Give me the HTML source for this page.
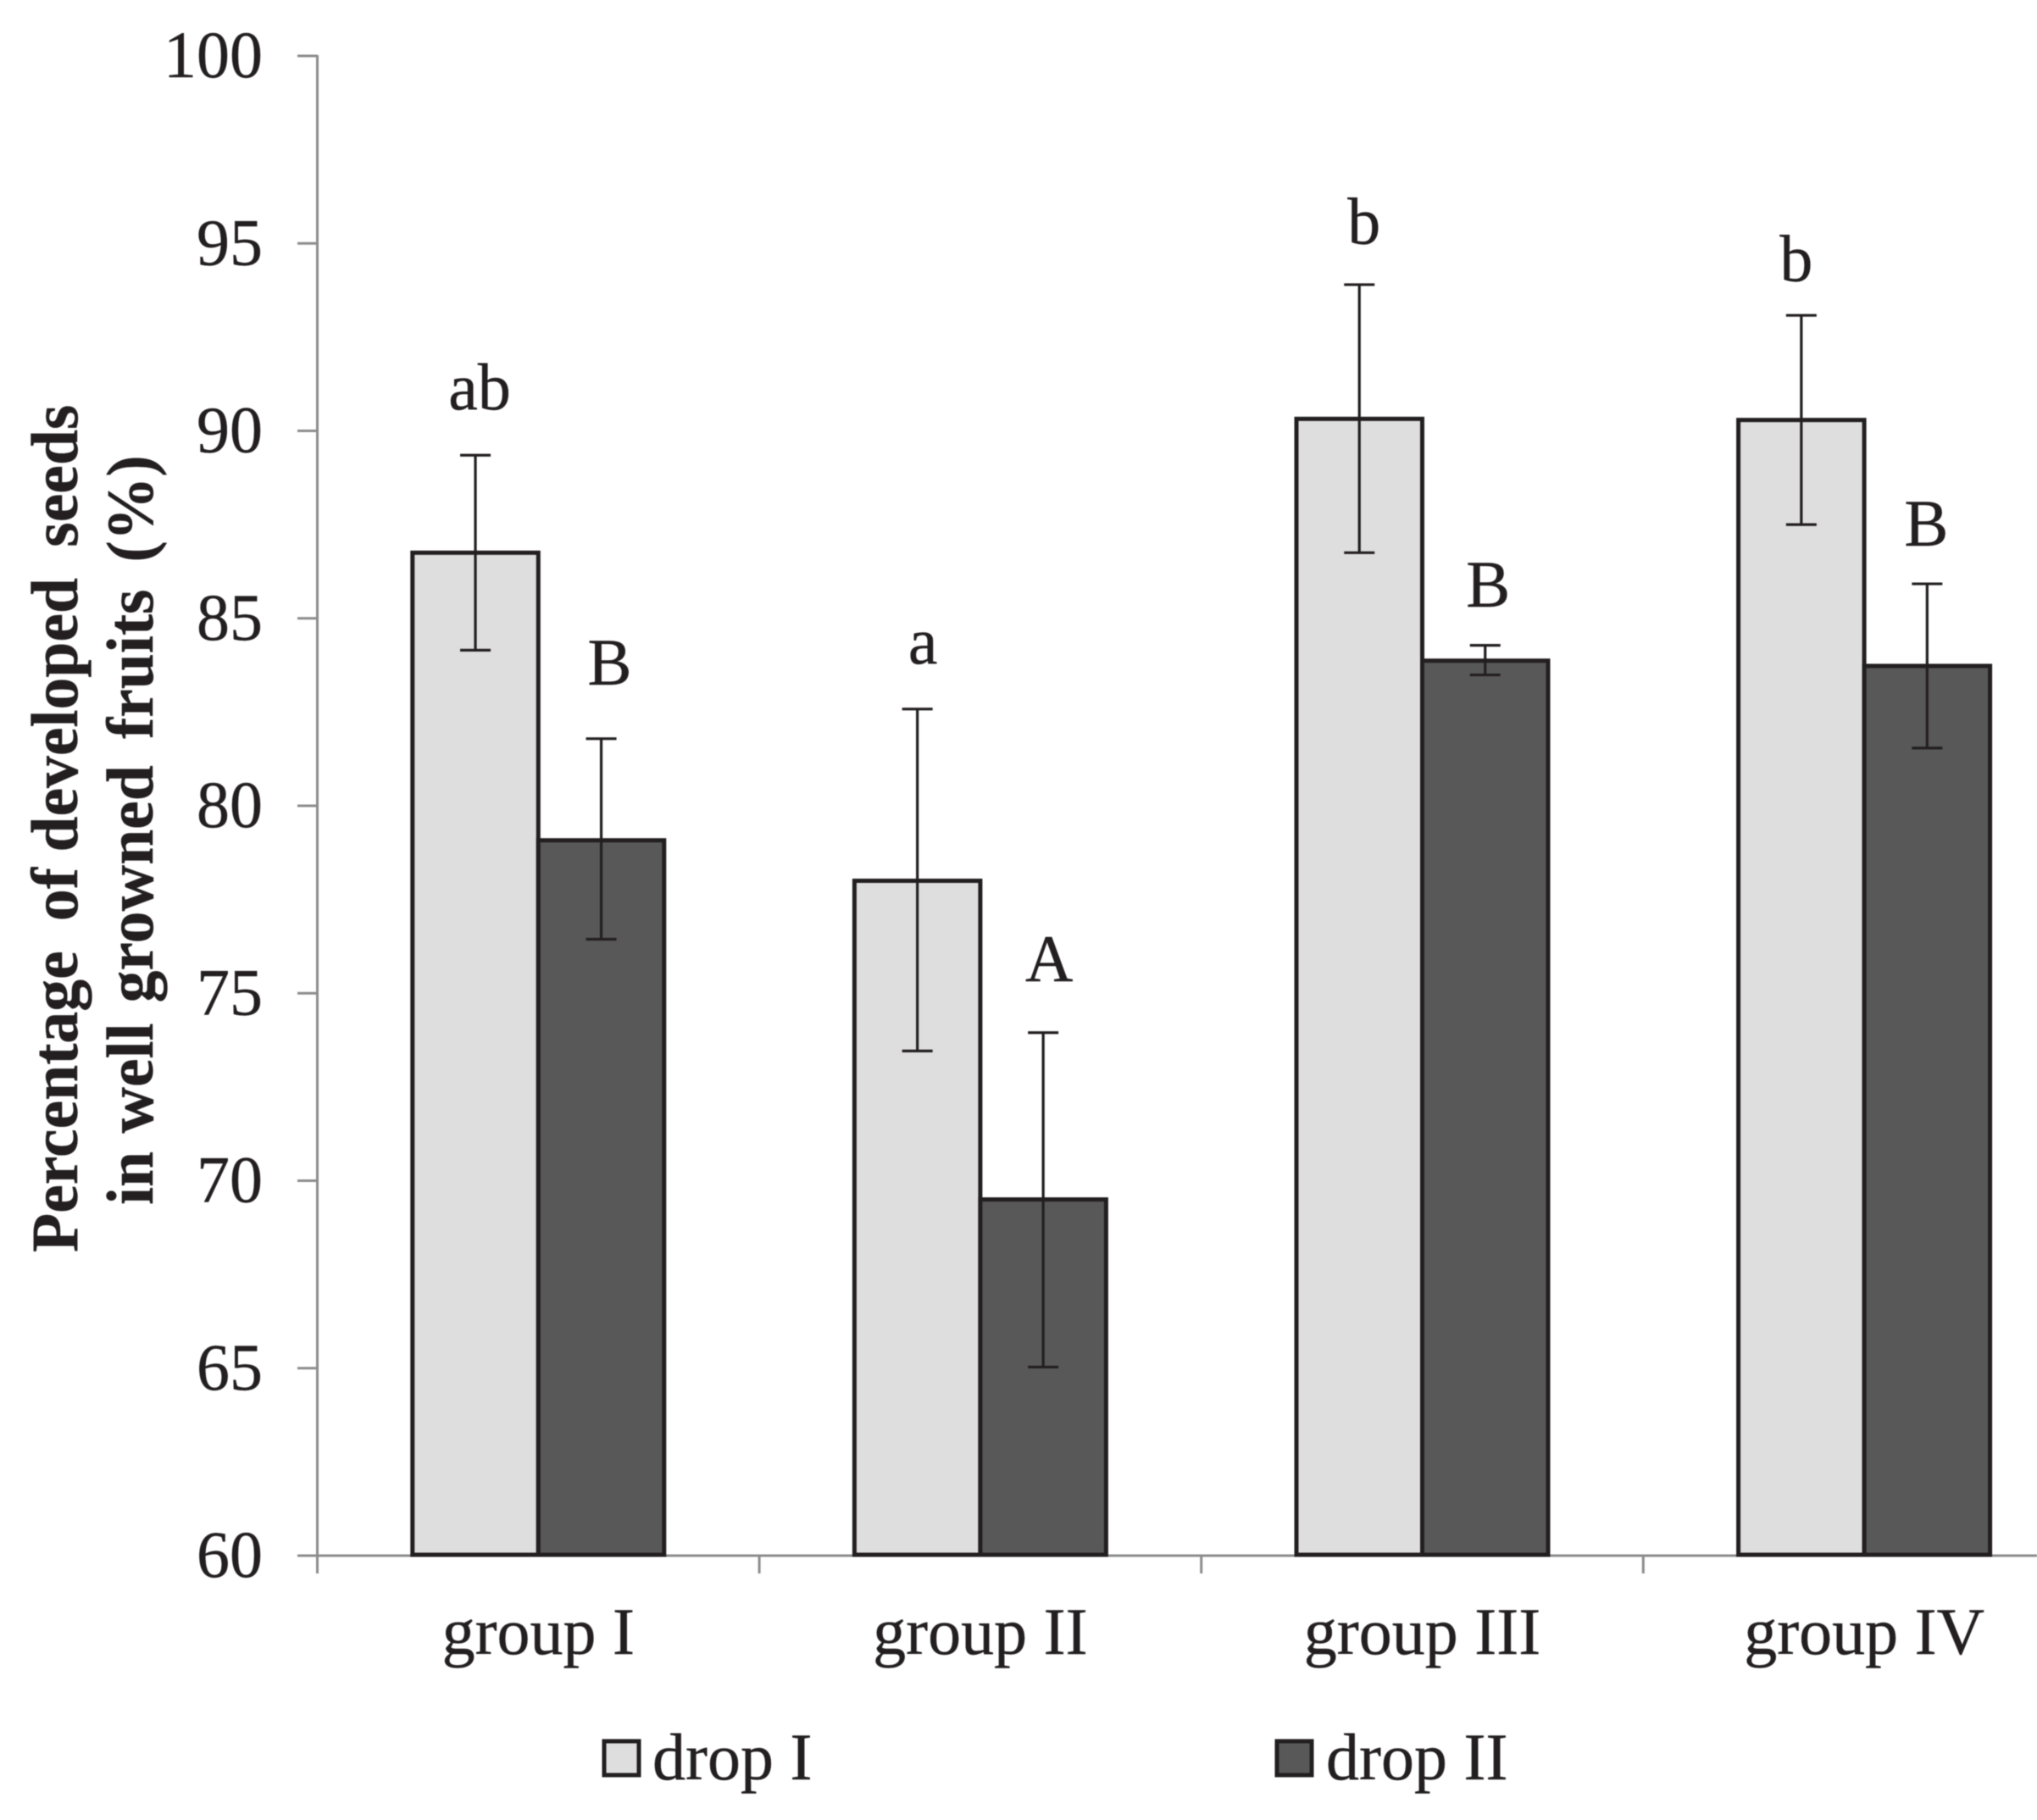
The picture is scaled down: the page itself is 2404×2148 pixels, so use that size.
<!DOCTYPE html>
<html lang="en">
<head>
<meta charset="utf-8">
<title>Percentage of developed seeds</title>
<style>
html,body{margin:0;padding:0;background:#fff;}
body{width:2404px;height:2148px;overflow:hidden;}
svg{display:block;filter:blur(0.6px);}
text{font-family:"Liberation Serif",serif;fill:#231f20;font-size:78px;stroke:#231f20;stroke-width:0.4px;}
</style>
</head>
<body>
<svg id="chart" xmlns="http://www.w3.org/2000/svg" width="2404" height="2148" viewBox="0 0 2404 2148">
  <g id="axes"></g>
  <g id="bars"></g>
  <g id="errors"></g>
  <g id="labels"></g>
  <g>
    <text transform="translate(91,1478) rotate(-90) scale(0.97,1)" font-weight="bold"><tspan x="0">Percentage</tspan> <tspan x="403">of</tspan> <tspan x="487">developed</tspan> <tspan x="858">seeds</tspan></text>
    <text transform="translate(180,1422) rotate(-90) scale(0.97,1)" font-weight="bold"><tspan x="0">in</tspan> <tspan x="87">well</tspan> <tspan x="246">growned</tspan> <tspan x="567">fruits</tspan> <tspan x="782">(%)</tspan></text>
  </g>
  <g>
    <g>
      <rect x="713" y="2055" width="41" height="40" fill="#dedede" stroke="#231f20" stroke-width="5"/>
      <text x="770" y="2100">drop I</text>
    </g>
    <g>
      <rect x="1507" y="2055" width="41" height="40" fill="#585858" stroke="#231f20" stroke-width="5"/>
      <text x="1565" y="2100">drop II</text>
    </g>
  </g>
</svg>
<script>
const categories = ["group I", "group II", "group III", "group IV"];
const yTicks = [60, 65, 70, 75, 80, 85, 90, 95, 100];
const dropI = [86.75, 78.0, 90.32, 90.29];
const dropII = [79.08, 69.5, 83.87, 83.73];
const dropIHigh = [89.35, 82.58, 93.9, 93.08];
const dropILow = [84.15, 73.46, 86.75, 87.5];
const dropIIHigh = [81.79, 73.95, 84.28, 85.92];
const dropIILow = [76.44, 65.03, 83.49, 81.54];
const dropILetters = ["ab", "a", "b", "b"];
const dropIILetters = ["B", "A", "B", "B"];
const dropILetterLevel = [90.58, 83.8, 95.0, 94.0];
const dropIILetterLevel = [83.23, 75.32, 85.31, 86.94];

const NS = "http://www.w3.org/2000/svg";
const axisLeft = 374.5, groupStep = 521.6, barW = 148.5;
function yScale(v) { return 1836 - (v - 60) * 44.25; }
function groupX(i) { return axisLeft + groupStep * i; }
function groupCenter(i) { return groupX(i) + groupStep / 2; }
function make(tag, parent, attrs) {
  const n = document.createElementNS(NS, tag);
  for (const k in attrs) n.setAttribute(k, attrs[k]);
  document.getElementById(parent).appendChild(n);
  return n;
}
const AXIS = { stroke: "#8c8c8c", "stroke-width": 3 };

let el = make("line", "axes", Object.assign({ x1: axisLeft, x2: axisLeft, y1: yScale(100) - 1, y2: 1857 }, AXIS));


el = make("line", "axes", Object.assign({ x1: 351, x2: 2404, y1: yScale(60), y2: yScale(60) }, AXIS));



yTicks.forEach(function (t) {
  let m = make("line", "axes", Object.assign({ x1: 351, x2: axisLeft, y1: yScale(t), y2: yScale(t) }, AXIS));
  
  
  let l = make("text", "axes", { x: 310, y: yScale(t) + 25, "text-anchor": "end" });
  l.textContent = t;
  
  
});

categories.forEach(function (c, i) {
  let m = make("line", "axes", Object.assign({ x1: groupX(i), x2: groupX(i), y1: yScale(60), y2: 1857 }, AXIS));
  
  
  let l = make("text", "axes", { x: groupCenter(i), y: 1952, "text-anchor": "middle" });
  l.textContent = c;
  
  
});

function drawBar(v, i, side, fill) {
  const left = side < 0 ? groupCenter(i) - barW : groupCenter(i);
  const r = make("rect", "bars", {
    x: left, y: yScale(v), width: barW, height: yScale(60) - 1 - yScale(v),
    fill: fill, stroke: "#231f20", "stroke-width": 5
  });
  
  
}
function drawError(hi, lo, i, side) {
  const cx = groupCenter(i) + side * barW / 2;
  const g = make("path", "errors", {
    d: "M" + (cx - 18) + " " + yScale(hi) + "H" + (cx + 18) +
       "M" + cx + " " + yScale(hi) + "V" + yScale(lo) +
       "M" + (cx - 18) + " " + yScale(lo) + "H" + (cx + 18),
    fill: "none", stroke: "#231f20", "stroke-width": 3.2
  });
  
  
}
function drawLetter(txt, level, i, side, nudge) {
  const t = make("text", "labels", {
    x: groupCenter(i) + side * barW / 2 + nudge, y: yScale(level), "text-anchor": "middle"
  });
  t.textContent = txt;
  
  
}

categories.forEach(function (c, i) {
  drawBar(dropI[i], i, -1, "#dedede");
  drawBar(dropII[i], i, 1, "#585858");
  drawError(dropIHigh[i], dropILow[i], i, -1);
  drawError(dropIIHigh[i], dropIILow[i], i, 1);
});

drawLetter(dropILetters[0], dropILetterLevel[0], 0, -1, 5);
drawLetter(dropILetters[1], dropILetterLevel[1], 1, -1, 6.5);
drawLetter(dropILetters[2], dropILetterLevel[2], 2, -1, 5.5);
drawLetter(dropILetters[3], dropILetterLevel[3], 3, -1, -6);
drawLetter(dropIILetters[0], dropIILetterLevel[0], 0, 1, 10);
drawLetter(dropIILetters[1], dropIILetterLevel[1], 1, 1, 7);
drawLetter(dropIILetters[2], dropIILetterLevel[2], 2, 1, 3.5);
drawLetter(dropIILetters[3], dropIILetterLevel[3], 3, 1, -1);
</script>
</body>
</html>
